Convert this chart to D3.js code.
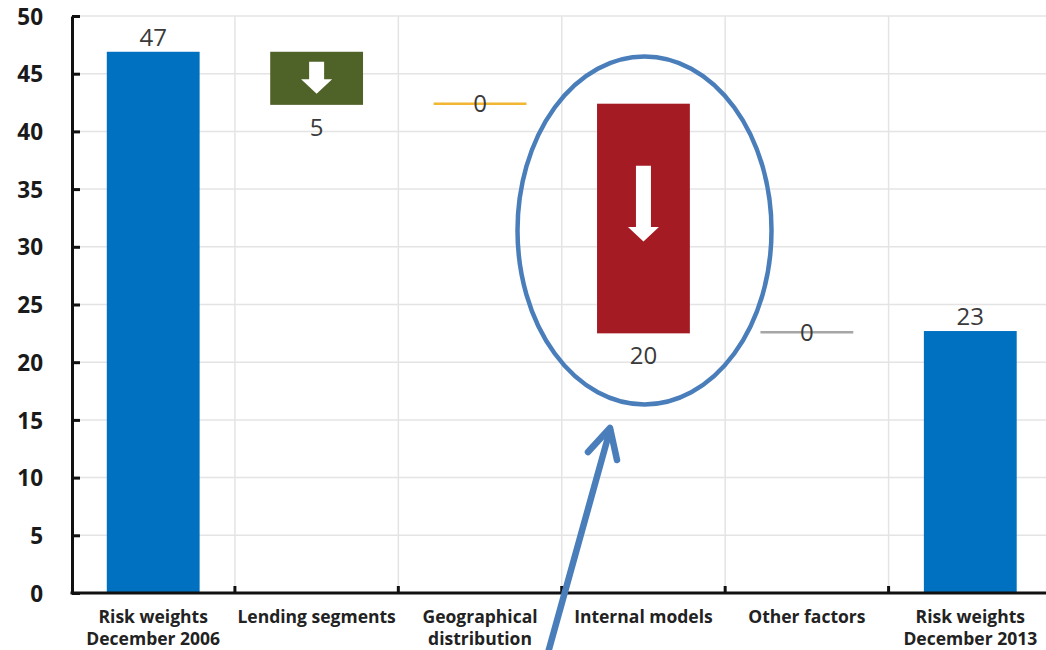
<!DOCTYPE html>
<html>
<head>
<meta charset="utf-8">
<script src="https://cdn.jsdelivr.net/npm/d3@7"></script>
<style>
  html, body { margin: 0; padding: 0; background: #ffffff; }
  svg { display: block; }
</style>
</head>
<body>
<svg id="chart" width="1046" height="650"></svg>
<script>
// Waterfall: change in average risk weights, December 2006 to December 2013
const categories = [
  ["Risk weights", "December 2006"],
  ["Lending segments"],
  ["Geographical", "distribution"],
  ["Internal models"],
  ["Other factors"],
  ["Risk weights", "December 2013"]
];
const kinds  = ["total", "delta", "delta", "delta", "delta", "total"];
const values = [46.9, -4.6, 0.1, -19.9, 0.1, 22.7];
const yTicks = [0, 5, 10, 15, 20, 25, 30, 35, 40, 45, 50];

const colors = ["#0070C0", "#4F6228", "#F2B632", "#A51B24", "#A6A6A6", "#0070C0"];

(function draw() {
  const svg = d3.select("#chart");
  const W = 1046;
  const plotLeft = 72, plotRight = 1052, plotTop = 16, plotBottom = 593;

  const x = d3.scaleBand().domain(d3.range(categories.length)).range([plotLeft - 0.5, plotRight]).padding(0);
  const y = d3.scaleLinear().domain([0, 50]).range([plotBottom, plotTop]);
  const barW = x.bandwidth() * 0.568;
  const cxOf = i => x(i) + x.bandwidth() / 2;

  // running levels for each step
  let level = 0;
  const steps = values.map((v, i) => {
    if (kinds[i] === "total") { level = v; return { i, from: 0, to: v, v }; }
    const from = level; level = level + v;
    return { i, from, to: level, v };
  });
  const isFlat = s => kinds[s.i] === "delta" && Math.round(s.v) === 0;

  // grid
  const grid = svg.append("g");
  grid.selectAll("line.h").data(yTicks.filter(t => t > 0)).join("line").attr("class", "h")
    .attr("x1", plotLeft).attr("x2", W)
    .attr("y1", d => y(d)).attr("y2", d => y(d))
    .attr("stroke", "#e4e4e4").attr("stroke-width", 1.5);
  grid.selectAll("line.v").data(d3.range(1, categories.length)).join("line").attr("class", "v")
    .attr("x1", d => x(d)).attr("x2", d => x(d))
    .attr("y1", plotTop).attr("y2", plotBottom)
    .attr("stroke", "#e4e4e4").attr("stroke-width", 1.5);

  // bars and flat-change markers
  const marks = svg.append("g");
  steps.forEach(s => {
    const cx = cxOf(s.i);
    if (isFlat(s)) {
      marks.append("line")
        .attr("x1", cx - barW / 2).attr("x2", cx + barW / 2)
        .attr("y1", y(s.to)).attr("y2", y(s.to))
        .attr("stroke", colors[s.i]).attr("stroke-width", 2.5);
      return;
    }
    const y0 = y(Math.max(s.from, s.to)), y1 = y(Math.min(s.from, s.to));
    marks.append("rect")
      .attr("x", cx - barW / 2).attr("width", barW)
      .attr("y", y0).attr("height", y1 - y0)
      .attr("fill", colors[s.i]);
  });

  // white down-arrows inside the decrease bars (fractions of bar height)
  const arrowSpec = { 1: { a: 0.19, b: 0.79 }, 3: { a: 0.27, b: 0.60 } };
  Object.keys(arrowSpec).forEach(k => {
    const s = steps[+k];
    const cx = cxOf(s.i);
    const yt = y(s.from), yb = y(s.to), h = yb - yt;
    const a = yt + h * arrowSpec[k].a, tip = yt + h * arrowSpec[k].b;
    const hb = tip - 14.5, sw = 7.5, hw = 15.5;
    marks.append("path")
      .attr("d", `M${cx - sw},${a} L${cx + sw},${a} L${cx + sw},${hb} L${cx + hw},${hb} L${cx},${tip} L${cx - hw},${hb} L${cx - sw},${hb} Z`)
      .attr("fill", "#ffffff");
  });

  // value labels
  const fmt = v => String(Math.round(Math.abs(v)));
  const labels = svg.append("g")
    .attr("font-family", "'Open Sans', sans-serif")
    .attr("font-size", 24).attr("fill", "#3a3a3a").attr("text-anchor", "middle");
  steps.forEach(s => {
    const cx = cxOf(s.i);
    if (kinds[s.i] === "total") {
      labels.append("text").attr("x", cx).attr("y", y(s.to) - 6).text(fmt(s.v));
    } else if (isFlat(s)) {
      labels.append("text").attr("x", cx).attr("y", y(s.to)).attr("dy", "0.36em").text(fmt(s.v));
    } else {
      labels.append("text").attr("x", cx).attr("y", y(s.to) + 31).text(fmt(s.v));
    }
  });

  // y axis
  const yAxis = svg.append("g")
    .attr("transform", `translate(${plotLeft},0)`)
    .call(d3.axisLeft(y).tickValues(yTicks).tickSizeInner(-8).tickSizeOuter(0).tickPadding(29));
  yAxis.select(".domain").attr("stroke", "#111").attr("stroke-width", 3);
  yAxis.selectAll(".tick line").attr("stroke", "#111").attr("stroke-width", 3);
  yAxis.selectAll(".tick text")
    .attr("font-family", "'Open Sans', sans-serif")
    .attr("font-weight", 700).attr("font-size", 22.5).attr("fill", "#1a1a1a")
    .attr("dy", "0.36em");

  // x axis line and ticks at category boundaries
  svg.append("line")
    .attr("x1", plotLeft - 1.5).attr("x2", W).attr("y1", plotBottom).attr("y2", plotBottom)
    .attr("stroke", "#111").attr("stroke-width", 3);
  svg.append("g").selectAll("line").data(d3.range(1, categories.length)).join("line")
    .attr("x1", d => x(d)).attr("x2", d => x(d))
    .attr("y1", plotBottom).attr("y2", plotBottom - 7)
    .attr("stroke", "#111").attr("stroke-width", 3);

  // category labels
  const xl = svg.append("g")
    .attr("font-family", "'Open Sans', sans-serif")
    .attr("font-weight", 700).attr("font-size", 17.5).attr("fill", "#222")
    .attr("text-anchor", "middle");
  categories.forEach((lines, i) => {
    const t = xl.append("text").attr("x", cxOf(i)).attr("y", 623);
    lines.forEach((ln, j) => t.append("tspan")
      .attr("x", cxOf(i)).attr("dy", j === 0 ? 0 : 22).text(ln));
  });

  // annotation: ellipse around the internal-models step and pointer arrow
  const ann = svg.append("g").attr("fill", "none").attr("stroke", "#4A7EBB")
    .attr("stroke-linecap", "round").attr("stroke-linejoin", "round");
  ann.append("ellipse")
    .attr("cx", 644.5).attr("cy", 230.5).attr("rx", 127).attr("ry", 174)
    .attr("stroke-width", 4.5);
  ann.append("line").attr("x1", 546).attr("y1", 660).attr("x2", 610).attr("y2", 430)
    .attr("stroke-width", 6.5);
  ann.append("path").attr("d", "M588,452 L610,428 L617,460").attr("stroke-width", 6.5);
})();
</script>
</body>
</html>
